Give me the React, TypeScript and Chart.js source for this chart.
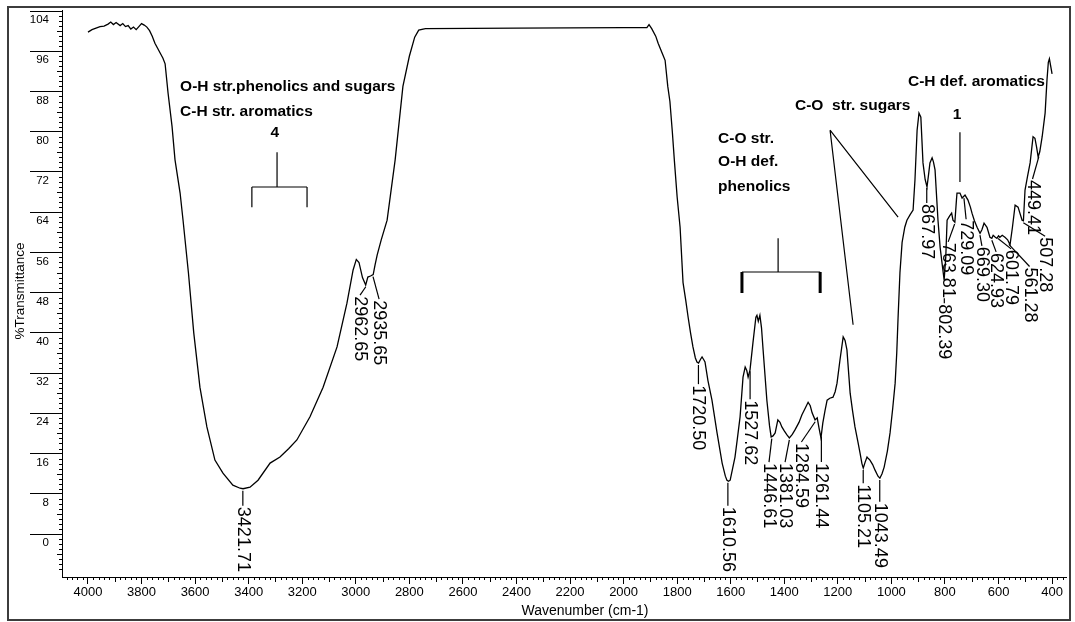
import React, { useEffect, useRef } from "react";
import { Chart, registerables } from "chart.js";

Chart.register(...registerables);

const FONT = '"Liberation Sans", Arial, sans-serif';

// ---- spectrum (wavenumber cm-1 -> %T) ----
const wavenumbers = [
  4000, 3985, 3970, 3955, 3940, 3925, 3915, 3905, 3895, 3880, 3870, 3860, 3850, 3840, 3830, 3820, 3810, 3800, 3790, 3780,
  3770, 3760, 3750, 3740, 3730, 3720, 3712, 3701, 3686, 3675, 3656, 3645, 3625, 3605, 3590, 3582, 3556, 3526, 3496, 3459,
  3432, 3421, 3395, 3365, 3320, 3283, 3250, 3220, 3171, 3122, 3070, 3033, 3010, 2998, 2988, 2975, 2963, 2955, 2945, 2935,
  2928, 2920, 2905, 2883, 2853, 2824, 2800, 2780, 2765, 2740, 2400, 2000, 1913, 1905, 1895, 1880, 1871, 1855, 1845, 1835,
  1827, 1818, 1810, 1800, 1789, 1778, 1768, 1759, 1750, 1741, 1732, 1726, 1720, 1712, 1707, 1700, 1696, 1685, 1670, 1651,
  1632, 1620, 1614, 1608, 1602, 1593, 1584, 1575, 1565, 1554, 1546, 1540, 1535, 1528, 1517, 1506, 1502, 1497, 1491, 1485,
  1479, 1465, 1455, 1449, 1442, 1434, 1424, 1416, 1409, 1400, 1390, 1381, 1370, 1360, 1345, 1334, 1320, 1311, 1303, 1296,
  1285, 1277, 1270, 1263, 1256, 1248, 1240, 1230, 1218, 1210, 1203, 1192, 1180, 1173, 1166, 1154, 1145, 1136, 1125, 1117,
  1110, 1105, 1098, 1091, 1086, 1080, 1070, 1061, 1050, 1043, 1035, 1027, 1015, 1005, 995, 986, 980, 975, 968, 960,
  950, 942, 930, 919, 912, 904, 897, 890, 882, 874, 867, 860, 856, 848, 843, 837, 826, 818, 811, 803,
  797, 792, 783, 775, 770, 763, 757, 755, 744, 736, 725, 714, 705, 699, 690, 680, 669, 662, 654, 643,
  632, 625, 620, 612, 606, 600, 595, 586, 576, 566, 557, 548, 538, 527, 512, 507, 501, 492, 482, 471,
  464, 458, 452, 446, 437, 426, 419, 414, 410, 405, 400,
];
const transmittance = [
  99.8, 100.3, 100.6, 100.9, 101.0, 101.4, 101.8, 101.3, 101.7, 101.1, 101.5, 100.9, 101.1, 100.4, 100.8, 100.3, 100.9, 101.5, 101.2, 100.8,
  100.1, 99.0, 97.6, 96.6, 95.6, 94.6, 93.5, 87.7, 81.0, 74.4, 67.8, 62.4, 52.0, 40.0, 33.0, 29.2, 21.3, 14.7, 12.1, 9.7,
  9.1, 9.0, 9.3, 10.7, 14.1, 15.3, 17.0, 18.7, 23.3, 29.2, 37.2, 45.9, 52.5, 54.6, 54.0, 51.0, 49.5, 51.1, 51.3, 51.6,
  53.5, 55.5, 58.5, 62.4, 74.4, 89.0, 95.0, 98.8, 100.2, 100.5, 100.6, 100.7, 100.7, 101.3, 100.5, 99.0, 97.6, 95.5, 94.2, 89.0,
  86.0, 80.0, 74.0, 67.0, 61.0, 50.0, 46.5, 43.1, 40.0, 37.2, 35.0, 34.2, 34.0, 34.8, 35.2, 34.6, 34.2, 30.5, 26.6, 20.1,
  14.1, 11.5, 10.7, 10.5, 10.7, 13.0, 15.3, 19.0, 23.3, 31.2, 33.2, 32.5, 31.2, 32.6, 38.0, 43.1, 43.5, 42.3, 43.5, 41.0,
  36.6, 26.6, 21.5, 19.3, 19.5, 20.1, 22.7, 22.2, 21.3, 20.5, 19.7, 19.1, 19.8, 20.7, 22.2, 23.7, 25.2, 26.2, 25.5, 24.1,
  22.7, 23.1, 21.0, 19.1, 22.1, 24.5, 26.6, 27.0, 27.2, 28.3, 30.0, 34.6, 39.2, 38.5, 36.6, 28.0, 24.5, 21.3, 18.3, 16.1,
  14.0, 13.1, 14.3, 15.3, 15.0, 14.7, 13.8, 12.7, 11.5, 11.1, 12.0, 13.3, 16.5, 20.1, 25.0, 30.0, 36.0, 43.1, 52.0, 58.0,
  61.0, 62.4, 63.5, 64.4, 70.4, 80.3, 83.7, 82.9, 73.8, 70.5, 69.0, 72.0, 73.8, 74.8, 74.0, 72.4, 62.4, 57.0, 53.9, 50.5,
  55.0, 62.4, 63.2, 63.8, 62.4, 62.0, 66.5, 67.8, 67.8, 66.8, 67.4, 66.4, 65.0, 63.8, 62.3, 61.0, 59.8, 60.5, 61.8, 61.0,
  59.0, 58.8, 59.4, 59.0, 58.8, 59.3, 59.0, 59.4, 59.0, 58.5, 57.5, 61.0, 65.4, 65.0, 62.4, 62.3, 68.4, 71.0, 73.8, 79.0,
  78.7, 77.0, 75.0, 76.0, 79.0, 83.7, 90.3, 93.8, 94.5, 93.0, 91.5,
];

// ---- axes ----
const xTickValues = [4000, 3800, 3600, 3400, 3200, 3000, 2800, 2600, 2400, 2200, 2000, 1800, 1600, 1400, 1200, 1000, 800, 600, 400];
const yTickValues = [0, 8, 16, 24, 32, 40, 48, 56, 64, 72, 80, 88, 96, 104];
const xTitle = "Wavenumber (cm-1)";
const yTitle = "%Transmittance";

// ---- peak labels ----
const peakLabels = [3421.71, 2962.65, 2935.65, 1720.5, 1610.56, 1527.62, 1446.61, 1381.03, 1284.59, 1261.44, 1105.21,
  1043.49, 867.97, 802.39, 763.81, 729.09, 669.3, 624.93, 601.79, 561.28, 507.28, 449.41];
// layout: where each rotated label text sits (wavenumber of its centre, %T of its top) and optional leader start
const labelTextWn = [3421.71, 2984, 2913, 1720.5, 1610.56, 1527.62, 1457, 1397, 1336, 1261.44, 1105.21,
  1043.49, 867.97, 802.39, 788, 721, 662, 609, 553, 484, 426, 473];
const labelTextTop = [5.4, 47.3, 46.5, 29.6, 5.4, 26.6, 14.1, 14.1, 18.1, 14.1, 9.9,
  6.2, 65.6, 45.7, 57.9, 62.4, 57.1, 55.9, 56.5, 53.0, 59.0, 70.4];
const labelLeaderStart: (number | null)[] = [null, null, null, null, null, null, null, null, null, null, null,
  null, null, 46.9, null, null, null, null, null, null, null, null];

// ---- band annotations ----
const noteTexts = ["O-H str.phenolics and sugars", "C-H str. aromatics", "4", "C-O str.", "O-H def.", "phenolics",
  "C-O  str. sugars", "1", "C-H def. aromatics"];
const noteWn = [3656, 3656, 3302, 1647, 1647, 1647, 1360, 755, 938];
const noteVal = [88.9, 83.9, 79.7, 78.7, 74.0, 69.0, 85.1, 83.3, 89.9];
const noteAlign: CanvasTextAlign[] = ["left", "left", "center", "left", "left", "left", "left", "center", "left"];

// brackets: [leftWn, stemWn, rightWn, stemTop, barVal, legBottom, legWidth]
const bracketOH = [3388, 3294, 3182, 75.9, 69.0, 65.0, 1.2];
const bracketCO = [1558, 1423, 1266, 58.8, 52.1, 47.9, 3];
// pointer lines: [fromWn, fromVal, toWn, toVal]
const pointerLines = [
  [1229, 80.3, 975, 63.0],
  [1229, 80.3, 1143, 41.6],
  [744, 79.9, 744, 70.0],
];

function curveAt(wn: number): number {
  for (let i = 0; i < wavenumbers.length - 1; i++) {
    const a = wavenumbers[i], b = wavenumbers[i + 1];
    if (wn <= a && wn >= b) {
      const t = (a - wn) / (a - b);
      return transmittance[i] + t * (transmittance[i + 1] - transmittance[i]);
    }
  }
  return transmittance[transmittance.length - 1];
}

const decorPlugin = {
  id: "ftirDecor",
  afterDraw(chart: any) {
    const ctx: CanvasRenderingContext2D = chart.ctx;
    const xs = chart.scales.x;
    const ys = chart.scales.y;
    const X = (v: number) => xs.getPixelForValue(v);
    const Y = (v: number) => ys.getPixelForValue(v);
    const area = chart.chartArea;
    ctx.save();

    // outer frame
    ctx.strokeStyle = "#3c3c3c";
    ctx.lineWidth = 2;
    ctx.strokeRect(8, 7, 1062, 613);

    // minor ticks
    ctx.strokeStyle = "#000";
    ctx.lineWidth = 1;
    ctx.beginPath();
    for (let v = -8; v <= 104; v++) {
      if (v % 8 === 0) continue;
      const len = v % 4 === 0 ? 5 : 3;
      const py = Math.round(Y(v)) + 0.5;
      ctx.moveTo(area.left - len, py);
      ctx.lineTo(area.left, py);
    }
    for (let w = 360; w <= 4080; w += 20) {
      if (w % 200 === 0) continue;
      const len = w % 100 === 0 ? 5 : 3;
      const px = Math.round(X(w)) + 0.5;
      ctx.moveTo(px, area.bottom);
      ctx.lineTo(px, area.bottom + len);
    }
    ctx.stroke();

    // axis titles
    ctx.fillStyle = "#000";
    ctx.font = `14px ${FONT}`;
    ctx.textAlign = "center";
    ctx.textBaseline = "middle";
    ctx.fillText(xTitle, 585, 611);
    ctx.save();
    ctx.translate(20, 291);
    ctx.rotate(-Math.PI / 2);
    ctx.font = `13.5px ${FONT}`;
    ctx.fillText(yTitle, 0, 0);
    ctx.restore();

    // peak labels
    ctx.font = `18px ${FONT}`;
    ctx.textAlign = "left";
    ctx.textBaseline = "middle";
    ctx.lineWidth = 1.2;
    peakLabels.forEach((wn, i) => {
      const ax = X(wn);
      const ls = labelLeaderStart[i];
      const ay = ls === null ? Y(curveAt(wn)) + 2 : Y(ls);
      const tx = X(labelTextWn[i]);
      const ty = Y(labelTextTop[i]);
      ctx.beginPath();
      ctx.moveTo(ax, ay);
      ctx.lineTo(tx, ty - 1);
      ctx.stroke();
      ctx.save();
      ctx.translate(tx, ty);
      ctx.rotate(Math.PI / 2);
      ctx.fillText(wn.toFixed(2), 0, 0);
      ctx.restore();
    });

    // band notes
    ctx.font = `bold 15.5px ${FONT}`;
    noteTexts.forEach((t, i) => {
      ctx.textAlign = noteAlign[i];
      ctx.fillText(t, X(noteWn[i]), Y(noteVal[i]));
    });

    // brackets
    const drawBracket = (b: number[]) => {
      const [l, m, r, st, bar, lb, lw] = b;
      ctx.lineWidth = 1.2;
      ctx.beginPath();
      ctx.moveTo(X(m), Y(st));
      ctx.lineTo(X(m), Y(bar));
      ctx.moveTo(X(l), Y(bar));
      ctx.lineTo(X(r), Y(bar));
      ctx.stroke();
      ctx.lineWidth = lw;
      ctx.beginPath();
      ctx.moveTo(X(l), Y(bar));
      ctx.lineTo(X(l), Y(lb));
      ctx.moveTo(X(r), Y(bar));
      ctx.lineTo(X(r), Y(lb));
      ctx.stroke();
    };
    drawBracket(bracketOH);
    drawBracket(bracketCO);

    ctx.lineWidth = 1.2;
    ctx.beginPath();
    pointerLines.forEach(([a, b, c, d]) => {
      ctx.moveTo(X(a), Y(b));
      ctx.lineTo(X(c), Y(d));
    });
    ctx.stroke();

    ctx.restore();
  },
};

export default function App() {
  const ref = useRef<HTMLCanvasElement | null>(null);
  useEffect(() => {
    document.body.style.margin = "0";
    const canvas = ref.current;
    if (!canvas) return;
    const points = wavenumbers.map((w, i) => ({ x: w, y: transmittance[i] }));
    const chart = new Chart(canvas, {
      type: "line",
      data: {
        datasets: [
          {
            data: points,
            borderColor: "#000",
            borderWidth: 1.3,
            pointRadius: 0,
            tension: 0,
            fill: false,
          },
        ],
      },
      options: {
        animation: false,
        responsive: false,
        devicePixelRatio: 1,
        layout: { padding: { left: 0, top: 10, right: 9, bottom: 0 } },
        plugins: { legend: { display: false }, tooltip: { enabled: false }, title: { display: false } },
        scales: {
          x: {
            type: "linear",
            reverse: true,
            min: 348,
            max: 4097,
            afterBuildTicks: (s: any) => {
              s.ticks = xTickValues.map((v) => ({ value: v }));
            },
            afterFit: (s: any) => {
              s.height = 45;
            },
            grid: { drawOnChartArea: false, drawTicks: true, tickLength: 7, tickColor: "#000", tickWidth: 1 },
            border: { display: true, color: "#000", width: 1 },
            ticks: {
              padding: 1,
              color: "#000",
              maxRotation: 0,
              autoSkip: false,
              font: { size: 13, family: FONT },
              callback: (v: any) => String(v),
            },
          },
          y: {
            type: "linear",
            min: -8.55,
            max: 104.2,
            afterBuildTicks: (s: any) => {
              s.ticks = yTickValues.map((v) => ({ value: v }));
            },
            afterFit: (s: any) => {
              s.width = 62;
            },
            grid: { drawOnChartArea: false, drawTicks: true, tickLength: 32, tickColor: "#000", tickWidth: 1 },
            border: { display: true, color: "#000", width: 1 },
            ticks: {
              padding: -19,
              labelOffset: 9,
              crossAlign: "near",
              color: "#000",
              font: { size: 11.5, family: FONT },
              callback: (v: any) => String(v),
            },
          },
        },
      },
      plugins: [decorPlugin],
    } as any);
    return () => chart.destroy();
  }, []);
  return (
    <div style={{ width: 1075, height: 622 }}>
      <canvas ref={ref} width={1075} height={622} style={{ display: "block" }} />
    </div>
  );
}
